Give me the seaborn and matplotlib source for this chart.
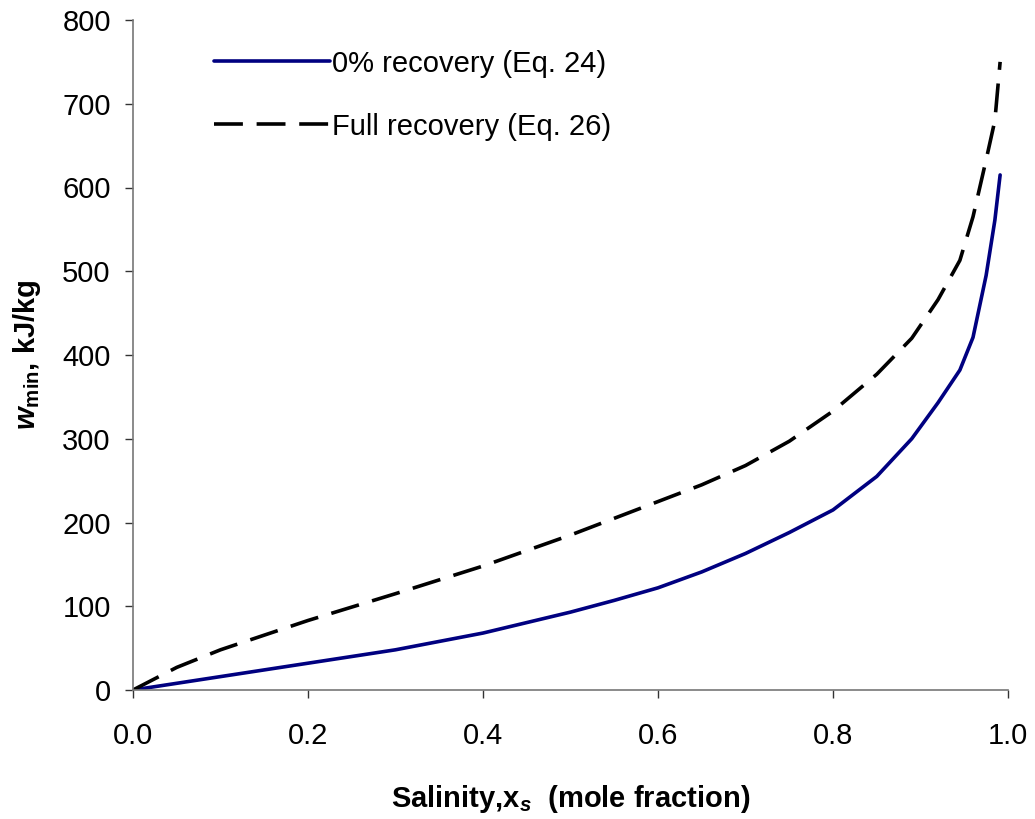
import matplotlib
matplotlib.use("Agg")
import matplotlib.pyplot as plt
import seaborn as sns
import pandas as pd

x_s = [0.0, 0.05, 0.1, 0.2, 0.3, 0.4, 0.5, 0.55, 0.6, 0.65, 0.7, 0.75, 0.8, 0.85, 0.89, 0.92, 0.945, 0.96, 0.975, 0.985, 0.991]
w_zero = [0, 8, 16, 32, 48, 68, 93, 107, 122, 141, 163, 188, 215, 255, 300, 343, 382, 421, 495, 561, 615]
w_full = [0, 27, 48, 83, 115, 148, 185, 205, 225, 245, 268, 297, 333, 377, 420, 466, 513, 565, 633, 680, 750]

label_zero = "0% recovery (Eq. 24)"
label_full = "Full recovery (Eq. 26)"

df = pd.DataFrame({"x": x_s * 2,
                   "w": w_zero + w_full,
                   "series": [label_zero] * len(x_s) + [label_full] * len(x_s)})

sns.set_theme(style="white")
plt.rcParams['font.family'] = ['Liberation Sans', 'DejaVu Sans']
plt.rcParams['mathtext.fontset'] = 'custom'
plt.rcParams['mathtext.rm'] = 'Liberation Sans'
plt.rcParams['mathtext.it'] = 'Liberation Sans:italic'
plt.rcParams['mathtext.bf'] = 'Liberation Sans:bold'
plt.rcParams['mathtext.bfit'] = 'Liberation Sans:bold:italic'
plt.rcParams['text.color'] = 'black'
plt.rcParams['axes.labelcolor'] = 'black'
plt.rcParams['xtick.color'] = 'black'
plt.rcParams['ytick.color'] = 'black'

fig = plt.figure(figsize=(10.35, 8.19), dpi=100)
ax = fig.add_axes([133/1035, 1 - 690/819, (1008-133)/1035, (690-20)/819])

sns.lineplot(data=df, x="x", y="w", hue="series", style="series",
             palette={label_zero: "#000080", label_full: "black"},
             dashes={label_zero: "", label_full: (8, 3.8)},
             linewidth=2.6, ax=ax, legend=True)

ax.set_xlim(0, 1.0)
ax.set_ylim(0, 800)
ax.set_xticks([0.0, 0.2, 0.4, 0.6, 0.8, 1.0])
ax.set_xticklabels(["0.0", "0.2", "0.4", "0.6", "0.8", "1.0"])
ax.set_yticks(range(0, 801, 100))
ax.tick_params(axis='both', labelsize=21, direction='out', length=6, width=1,
               color='#333333', bottom=True, left=True)
ax.tick_params(axis='x', pad=17)
ax.tick_params(axis='y', pad=10)
for side in ['top', 'right']:
    ax.spines[side].set_visible(False)
for side in ['left', 'bottom']:
    ax.spines[side].set_color('#777777')
    ax.spines[side].set_linewidth(1.2)

ax.set_xlabel(r"Salinity,x$_{\mathbfit{s}}$  (mole fraction)", fontsize=21,
              fontweight='bold', labelpad=24)
ax.set_ylabel(r"$\mathbfit{w}_{\mathbf{min}}$, kJ/kg", fontsize=21,
              fontweight='bold', labelpad=14)

handles, labels = ax.get_legend_handles_labels()
leg = ax.legend(handles, labels, loc='upper left', bbox_to_anchor=(0.062, 0.995),
                frameon=False, fontsize=21, handlelength=4.0, handletextpad=0.05,
                labelspacing=1.2)
for h in leg.get_lines():
    h.set_linewidth(2.6)

fig.savefig("out.png", dpi=100)
